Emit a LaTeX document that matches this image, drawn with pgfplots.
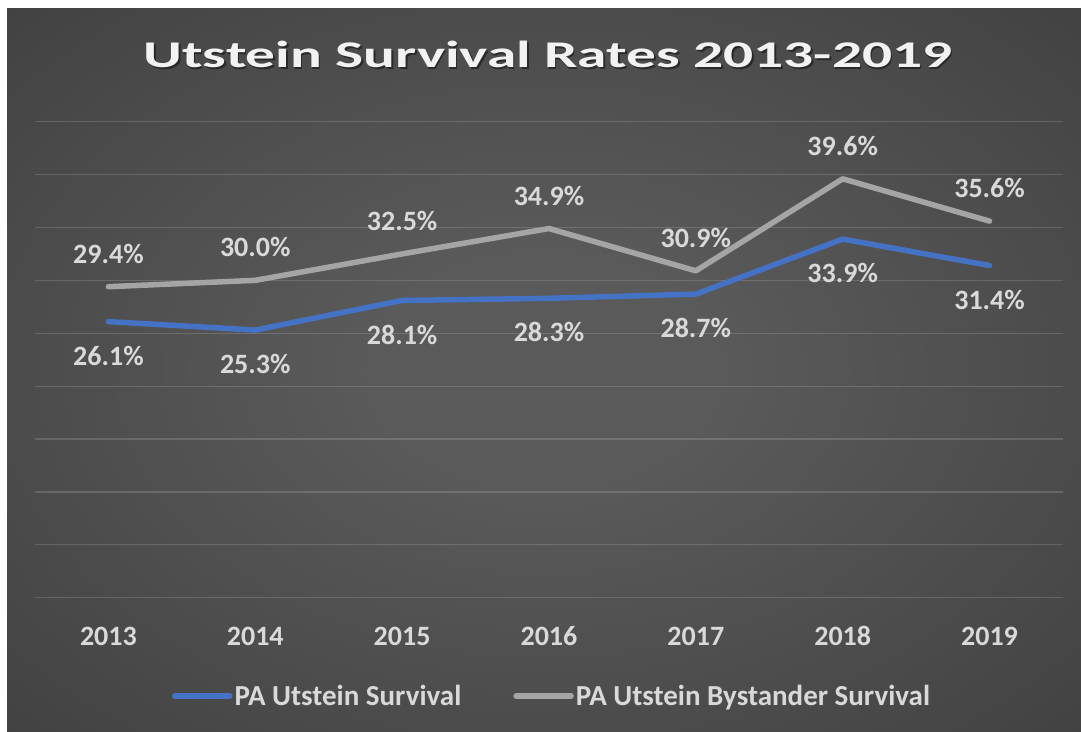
\documentclass[border=0pt]{standalone}
\usepackage{graphicx}
\usepackage{pgfplots}
\pgfplotsset{compat=1.18}
\usepackage{fontspec}
\setmainfont{Carlito}
\definecolor{bgin}{HTML}{5A5A5A}
\definecolor{bgout}{HTML}{232323}
\definecolor{serblue}{HTML}{4472C4}
\definecolor{sergray}{HTML}{A5A5A5}
\definecolor{txt}{HTML}{D9D9D9}
\definecolor{ttl}{HTML}{F2F2F2}
\pgfdeclareradialshading{bgshade}{\pgfpoint{0bp}{0bp}}{color(0bp)=(bgin); color(8bp)=(bgin); color(71bp)=(bgout)}
\newcommand{\titletext}{\scalebox{1.575}[1]{\fontsize{37.7bp}{45bp}\selectfont\bfseries Utstein Survival Rates 2013-2019}}
\begin{document}
\begin{tikzpicture}[x=1bp,y=1bp]
\fill[white] (0,0) rectangle (1081,732);
\shade[shading=bgshade] (7,0) rectangle (1081,723);
\node[text=black, opacity=0.45, anchor=base, inner sep=0pt] at (549.5,662.8) {\titletext};
\node[text=ttl, anchor=base, inner sep=0pt] at (548,664.3) {\titletext};
\begin{axis}[
  at={(35bp,134.3bp)}, anchor=south west,
  scale only axis, width=1028bp, height=476bp,
  xmin=-0.5, xmax=6.5, ymin=0, ymax=45,
  xtick={0,1,2,3,4,5,6},
  xticklabels={2013,2014,2015,2016,2017,2018,2019},
  ytick={0,5,...,45}, yticklabels={},
  ymajorgrids,
  major grid style={white, opacity=0.15, line width=1.2bp},
  axis line style={draw=none},
  tick style={draw=none},
  /pgf/number format/assume math mode=true,
  xticklabel style={font=\fontsize{28bp}{34bp}\selectfont\bfseries, text=txt, anchor=base, yshift=-48.3bp, inner sep=0pt},
  clip=false,
  legend columns=2,
  legend style={at={(0.503,-0.2065)}, anchor=center, draw=none, fill=none, text=txt,
    font=\fontsize{29bp}{34bp}\selectfont\bfseries,
    /tikz/every even column/.append style={column sep=50bp}},
  legend image code/.code={\draw[#1, line width=5.5bp] (0bp,0bp) -- (55bp,0bp);},
]
\addplot[serblue, line width=5.5bp, line cap=round, line join=round,
  nodes near coords={\pgfmathprintnumber[fixed,fixed zerofill,precision=1]{\pgfplotspointmeta}\%},
  every node near coord/.append style={font=\fontsize{28bp}{34bp}\selectfont\bfseries, text=txt, anchor=center, yshift=-34bp}]
  coordinates {(0,26.1) (1,25.3) (2,28.1) (3,28.3) (4,28.7) (5,33.9) (6,31.4)};
\addlegendentry{PA Utstein Survival}
\addplot[sergray, line width=5.5bp, line cap=round, line join=round,
  nodes near coords={\pgfmathprintnumber[fixed,fixed zerofill,precision=1]{\pgfplotspointmeta}\%},
  every node near coord/.append style={font=\fontsize{28bp}{34bp}\selectfont\bfseries, text=txt, anchor=center, yshift=33bp}]
  coordinates {(0,29.4) (1,30.0) (2,32.5) (3,34.9) (4,30.9) (5,39.6) (6,35.6)};
\addlegendentry{PA Utstein Bystander Survival}
\end{axis}
\end{tikzpicture}
\end{document}
